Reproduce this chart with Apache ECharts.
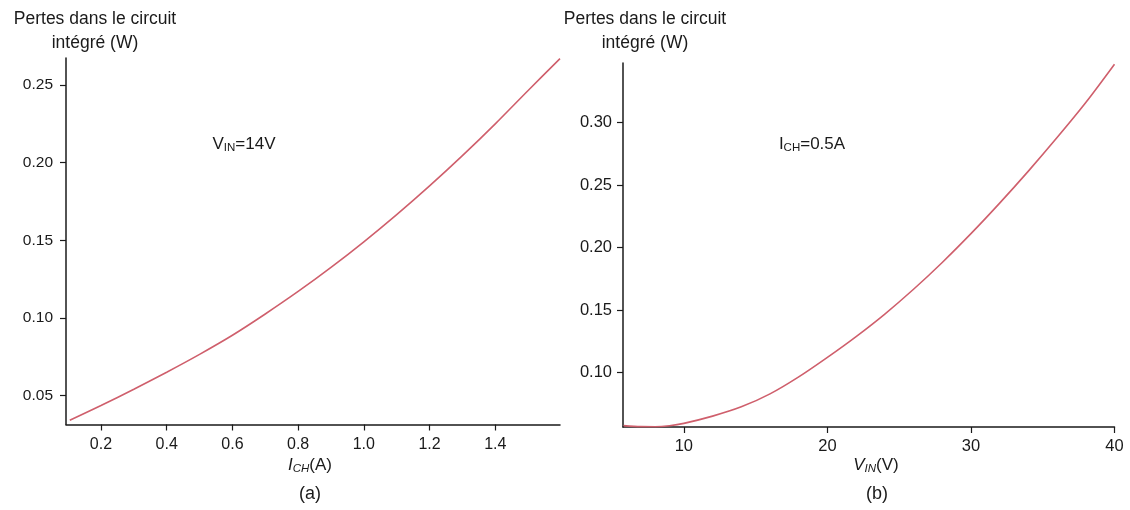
<!DOCTYPE html>
<html>
<head>
<meta charset="utf-8">
<script src="https://cdn.jsdelivr.net/npm/echarts@6/dist/echarts.min.js"></script>
<style>
  html, body { margin: 0; padding: 0; background: #fff; }
  #chart { width: 1130px; height: 510px; }
</style>
</head>
<body>
<div id="chart"></div>
<script>
// (a) losses vs load current, VIN = 14 V
const currentA = [0.105, 0.2, 0.3, 0.4, 0.5, 0.6, 0.7, 0.8, 0.9, 1.0, 1.1, 1.2, 1.3, 1.4, 1.5, 1.597];
const lossA = [0.034, 0.0435, 0.054, 0.065, 0.0765, 0.0888, 0.1025, 0.117, 0.1325, 0.149, 0.1665, 0.185, 0.2045, 0.225, 0.2465, 0.267];
// (b) losses vs input voltage, ICH = 0.5 A
const voltageB = [5.8, 7, 8, 9, 10, 12, 14, 16, 18, 20, 22, 24, 26, 28, 30, 32, 34, 36, 38, 40];
const lossB = [0.0577, 0.0569, 0.0568, 0.0576, 0.0595, 0.0653, 0.0727, 0.0831, 0.0967, 0.1123, 0.1289, 0.1469, 0.1667, 0.1881, 0.2111, 0.2355, 0.2611, 0.2879, 0.3159, 0.3465];

const xTicksA = [0.2, 0.4, 0.6, 0.8, 1.0, 1.2, 1.4];
const yTicksA = [0.05, 0.10, 0.15, 0.20, 0.25];
const xTicksB = [10, 20, 30, 40];
const yTicksB = [0.10, 0.15, 0.20, 0.25, 0.30];

const FONT = '"Liberation Sans", Arial, sans-serif';
const INK = '#1a1a1a';
const CURVE = '#cf5f6c';

const chart = echarts.init(document.getElementById('chart'));

function valAxis(min, max, ticks, digits, margin, size) {
  return {
    type: 'value', min: min, max: max,
    axisLine: { show: true, lineStyle: { color: INK, width: 1.5 } },
    axisTick: { show: true, length: 6, customValues: ticks, lineStyle: { color: INK, width: 1.2 } },
    axisLabel: { customValues: ticks, color: INK, fontSize: size, fontFamily: FONT, margin: margin,
      formatter: v => v.toFixed(digits) },
    splitLine: { show: false }
  };
}

const rich = {
  n: { fontSize: 17, fontFamily: FONT, color: INK, lineHeight: 20 },
  s: { fontSize: 11.5, fontFamily: FONT, color: INK, lineHeight: 11, verticalAlign: 'bottom' },
  i: { fontSize: 17, fontFamily: FONT, color: INK, lineHeight: 20, fontStyle: 'italic' },
  is: { fontSize: 11.5, fontFamily: FONT, color: INK, lineHeight: 11, verticalAlign: 'bottom', fontStyle: 'italic' }
};

function label(x, y, text) {
  return { type: 'text', x: x, y: y,
    style: { text: text, rich: rich, align: 'center', verticalAlign: 'middle', fontSize: 17, fontFamily: FONT, fill: INK } };
}
function plain(x, y, text, size) {
  return { type: 'text', x: x, y: y,
    style: { text: text, align: 'center', verticalAlign: 'middle', fontSize: size, lineHeight: 24, fontFamily: FONT, fill: INK } };
}

chart.setOption({
  animation: false,
  grid: [
    { left: 66, top: 58, right: 570, bottom: 85.5 },
    { left: 623, top: 63, right: 15.5, bottom: 83 }
  ],
  xAxis: [
    Object.assign(valAxis(0.0935, 1.597, xTicksA, 1, 12, 16), { gridIndex: 0 }),
    Object.assign(valAxis(5.76, 40, xTicksB, 0, 11, 16.5), { gridIndex: 1 })
  ],
  yAxis: [
    Object.assign(valAxis(0.0313, 0.2674, yTicksA, 2, 13, 15.5), { gridIndex: 0 }),
    Object.assign(valAxis(0.0566, 0.3475, yTicksB, 2, 11, 16.5), { gridIndex: 1 })
  ],
  series: [
    { type: 'line', xAxisIndex: 0, yAxisIndex: 0, smooth: 0.3, showSymbol: false,
      data: currentA.map((x, k) => [x, lossA[k]]),
      lineStyle: { color: CURVE, width: 1.6 } },
    { type: 'line', xAxisIndex: 1, yAxisIndex: 1, smooth: 0.3, showSymbol: false,
      data: voltageB.map((x, k) => [x, lossB[k]]),
      lineStyle: { color: CURVE, width: 1.6 } }
  ],
  graphic: [
    plain(95, 31, 'Pertes dans le circuit\nintégré (W)', 17.5),
    plain(645, 31, 'Pertes dans le circuit\nintégré (W)', 17.5),
    label(244, 144, '{n|V}{s|IN}{n|=14V}'),
    label(812, 144, '{n|I}{s|CH}{n|=0.5A}'),
    label(310, 465, '{i|I}{is|CH}{n|(A)}'),
    label(876, 465, '{i|V}{is|IN}{n|(V)}'),
    plain(310, 494, '(a)', 18),
    plain(877, 494, '(b)', 18)
  ]
});
</script>
</body>
</html>
